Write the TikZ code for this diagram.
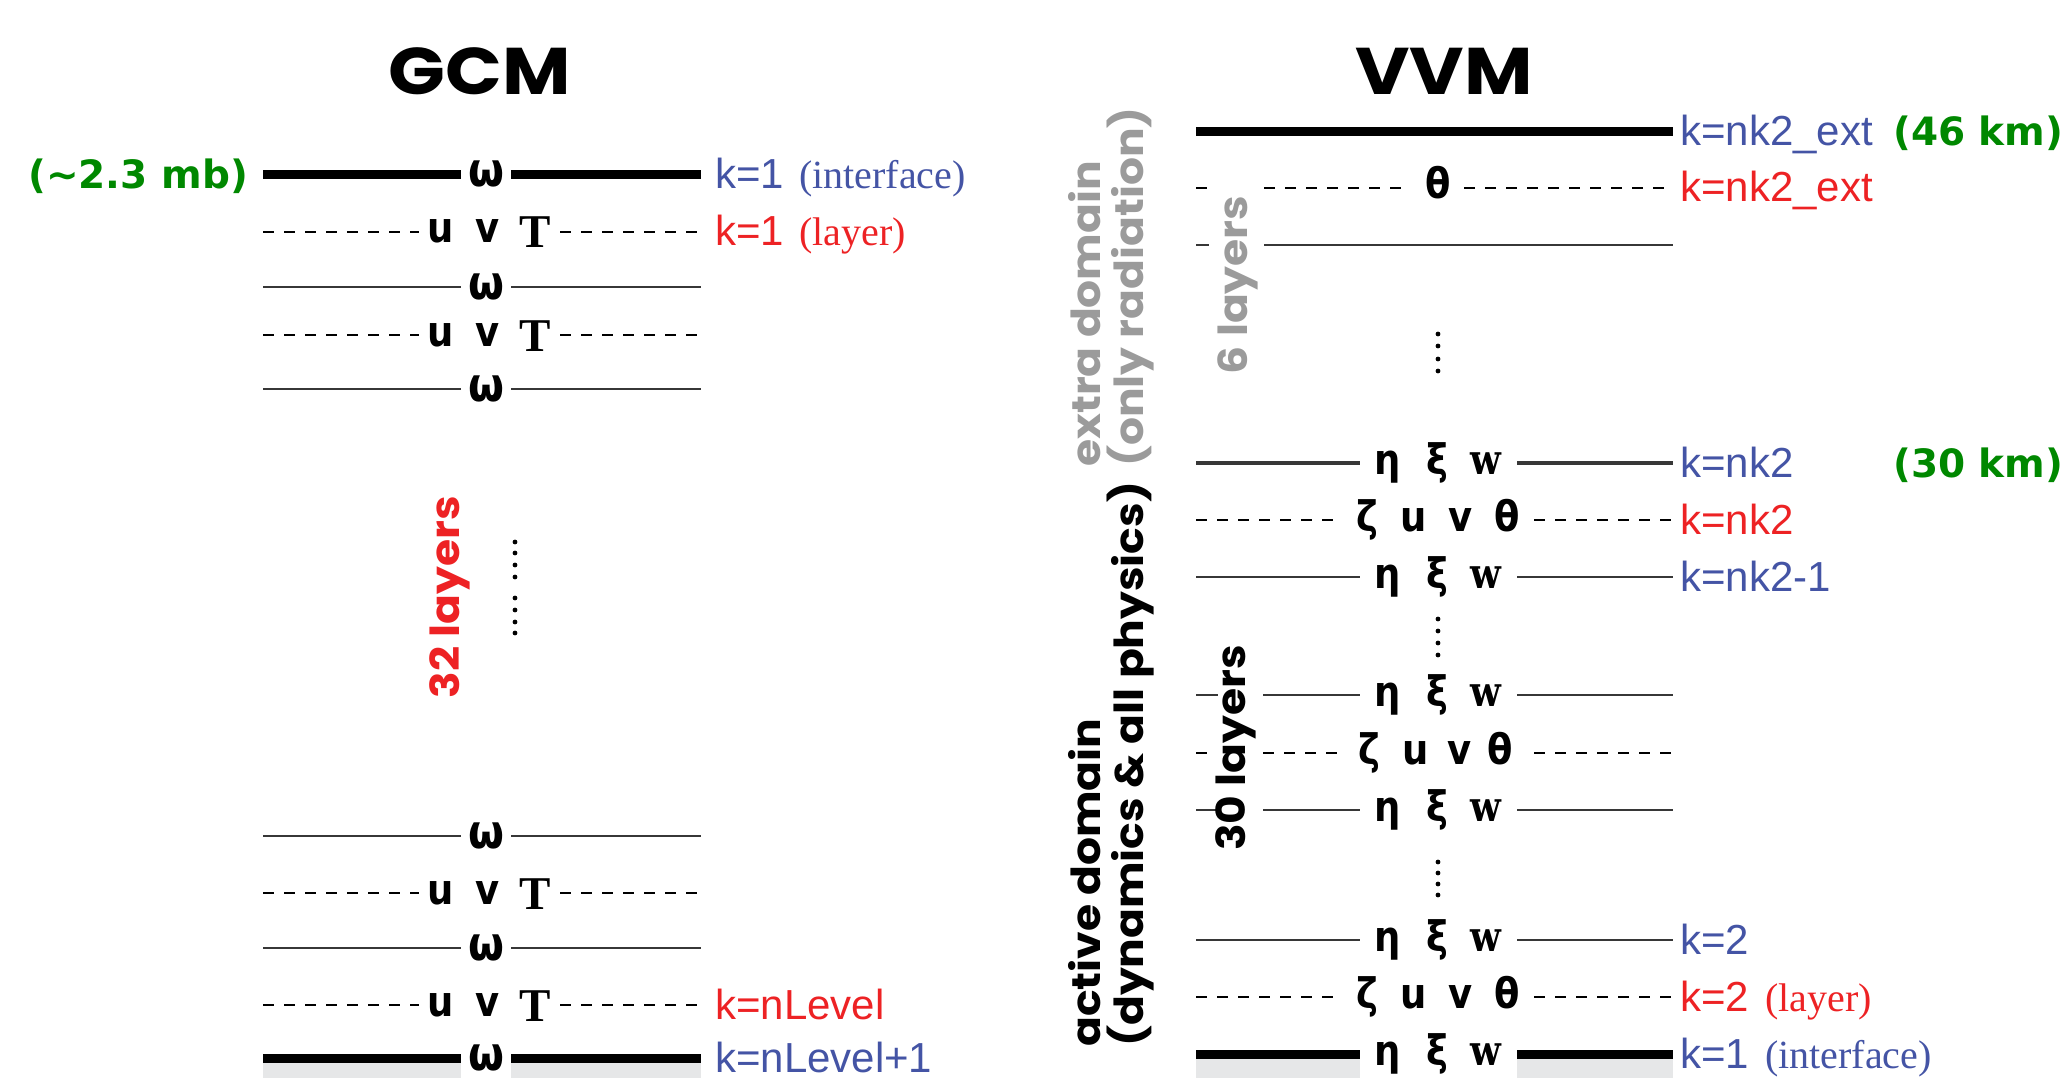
\documentclass[tikz,border=0pt]{standalone}
\usepackage{fontspec}
\setmainfont{Liberation Serif}
\newfontfamily\labfont{Liberation Sans}
\newfontfamily\kmfont{DejaVu Sans}
\newfontfamily\headfont[FakeStretch=1.13]{Poppins}
\newfontfamily\sidefont[FakeStretch=1.1]{Poppins}
\newfontfamily\symfont[FakeStretch=0.88]{DejaVu Sans}
\newfontfamily\wfont[FakeStretch=0.85]{DejaVu Serif}
\definecolor{kblue}{RGB}{68,84,165}
\definecolor{kred}{RGB}{237,34,36}
\definecolor{kgreen}{RGB}{0,136,0}
\definecolor{soft}{RGB}{155,155,155}
\definecolor{ground}{RGB}{230,231,232}
\definecolor{levgray}{RGB}{55,55,55}
\newcommand\sz[2]{\fontsize{#1}{#2}\selectfont}
\newcommand\cell[2]{\makebox[#1][c]{#2}}
% variable groups on each level
\newcommand\om{{\sz{47}{50}ω}}
\newcommand\serT{\raisebox{-5pt}{\rmfamily\bfseries\sz{47}{50}T}}
\newcommand\serw{{\wfont\bfseries\sz{42}{48}w}}
\newcommand\uvT{\cell{47pt}{u}\cell{47pt}{v}\cell{47pt}{\serT}}
\newcommand\exw{\cell{49pt}{η}\cell{49pt}{ξ}\cell{49pt}{\serw}}
\newcommand\zuvt{\cell{46.7pt}{ζ}\cell{46.7pt}{u}\cell{46.7pt}{v}\cell{46.7pt}{θ}}
\tikzset{
  iface/.style={line width=9pt, black},
  lev/.style={line width=2.8pt, levgray},
  lay/.style={line width=2.8pt, black, dash pattern=on 11pt off 10pt},
  sym/.style={inner sep=0pt, anchor=base, font=\symfont\bfseries\sz{42}{48}},
  klab/.style={anchor=base west, inner sep=0pt, font=\labfont\sz{42}{48}},
  km/.style={inner sep=0pt, font=\kmfont\bfseries\sz{39}{44}, text=kgreen},
  title/.style={inner sep=0pt, font=\headfont\bfseries\sz{66}{70}},
  vert/.style={rotate=90, inner sep=0pt, font=\sidefont\bfseries\sz{40}{43}, align=left},
}
\newcommand\ser[1]{{\rmfamily\sz{40}{46}#1}}
\begin{document}
\begin{tikzpicture}[x=1pt,y=-1pt]
\useasboundingbox (0,0) rectangle (2065,1078);

% ---------------- GCM column ----------------
\node[title] (gcm) at (480,71) {GCM};

\fill[ground] (263,1058) rectangle (461,1078);
\fill[ground] (511,1058) rectangle (701,1078);

% interfaces (omega) and layers (u v T)
\node[sym] (g1) at (486,187) {\om};
\draw[iface] (263,175) -- (461,175) (511,175) -- (701,175);
\node[sym] (g2) at (488,243) {\uvT};
\draw[lay] (263,232) -- (419,232) (560,232) -- (701,232);
\node[sym] (g3) at (486,299) {\om};
\draw[lev] (263,287) -- (461,287) (511,287) -- (701,287);
\node[sym] (g4) at (488,346) {\uvT};
\draw[lay] (263,335) -- (419,335) (560,335) -- (701,335);
\node[sym] (g5) at (486,401) {\om};
\draw[lev] (263,389) -- (461,389) (511,389) -- (701,389);

\node[vert, text=kred] (g32) at (450,597) {32 layers};
\foreach \yy in {542,553,565,577,598,610,622,633}
  \fill (515,\yy) circle[radius=2.4pt];

\node[sym] (g6) at (486,848) {\om};
\draw[lev] (263,836) -- (461,836) (511,836) -- (701,836);
\node[sym] (g7) at (488,904) {\uvT};
\draw[lay, line width=2.2pt] (263,893) -- (419,893) (560,893) -- (701,893);
\node[sym] (g8) at (486,960) {\om};
\draw[lev] (263,948) -- (461,948) (511,948) -- (701,948);
\node[sym] (g9) at (488,1016) {\uvT};
\draw[lay, line width=2.2pt] (263,1005) -- (419,1005) (560,1005) -- (701,1005);
\node[sym] (g10) at (486,1070) {\om};
\draw[iface] (263,1058) -- (461,1058) (511,1058) -- (701,1058);

% level labels
\node[km, anchor=base east] (mb) at (248,189) {(\textasciitilde 2.3 mb)};
\node[klab, text=kblue] (gl1) at (715,189) {k=1\hspace{15pt}\ser{(interface)}};
\node[klab, text=kred] (gl2) at (715,246) {k=1\hspace{15pt}\ser{(layer)}};
\node[klab, text=kred] (gl3) at (715,1019) {k=nLevel};
\node[klab, text=kblue] (gl4) at (715,1072) {k=nLevel+1};

% ---------------- VVM column ----------------
\node[title] (vvm) at (1444,71) {VVM};

\fill[ground] (1196,1054) rectangle (1360,1078);
\fill[ground] (1517,1054) rectangle (1673,1078);

% extra domain
\draw[iface] (1196,132) -- (1673,132);
\node[sym] (v1) at (1438,199) {θ};
\draw[lay] (1196,188) -- (1209,188) (1264,188) -- (1409,188) (1464,188) -- (1673,188);
\draw[lev] (1196,245) -- (1209,245) (1264,245) -- (1673,245);
\foreach \yy in {334,346,359,371}
  \fill (1438,\yy) circle[radius=2.4pt];

% active domain
\node[sym] (v2) at (1437,474) {\exw};
\draw[lev, line width=3.6pt] (1196,463) -- (1360,463) (1517,463) -- (1673,463);
\node[sym] (v3) at (1437,531) {\zuvt};
\draw[lay] (1196,520) -- (1343,520) (1534,520) -- (1673,520);
\node[sym] (v4) at (1437,588) {\exw};
\draw[lev] (1196,577) -- (1360,577) (1517,577) -- (1673,577);
\foreach \yy in {619,631,643,655}
  \fill (1438,\yy) circle[radius=2.4pt];
\node[sym] (v5) at (1437,706) {\exw};
\draw[lev] (1196,695) -- (1218,695) (1263,695) -- (1360,695) (1517,695) -- (1673,695);
\node[sym] (v6) at (1433,764) {\cell{46pt}{ζ}\cell{46pt}{u}\cell{43pt}{v}\cell{38pt}{θ}};
\draw[lay, line width=2.2pt] (1196,753) -- (1208,753) (1263,753) -- (1343,753) (1534,753) -- (1673,753);
\node[sym] (v7) at (1437,821) {\exw};
\draw[lev] (1196,810) -- (1218,810) (1263,810) -- (1360,810) (1517,810) -- (1673,810);
\foreach \yy in {862,873,884,895}
  \fill (1438,\yy) circle[radius=2.4pt];
\node[sym] (v8) at (1437,951) {\exw};
\draw[lev] (1196,940) -- (1360,940) (1517,940) -- (1673,940);
\node[sym] (v9) at (1437,1008) {\zuvt};
\draw[lay] (1196,997) -- (1343,997) (1534,997) -- (1673,997);
\node[sym] (v10) at (1437,1065) {\exw};
\draw[iface] (1196,1054) -- (1360,1054) (1517,1054) -- (1673,1054);

% domain annotations
\node[vert, text=soft, anchor=west] (extra) at (1111,467) {extra domain\\(only radiation)};
\node[vert, text=soft] (six) at (1238,285) {6 layers};
\node[vert, anchor=west] (active) at (1111,1047) {active domain\\(dynamics \& all physics)};
\node[vert] (thirty) at (1236,748) {30 layers};

% level labels
\node[klab, text=kblue] (vl1) at (1680,146) {k=nk2\_ext};
\node[km, anchor=base west] (km46) at (1893,146) {(46 km)};
\node[klab, text=kred] (vl2) at (1680,202) {k=nk2\_ext};
\node[klab, text=kblue] (vl3) at (1680,477) {k=nk2};
\node[km, anchor=base west] (km30) at (1893,477) {(30 km)};
\node[klab, text=kred] (vl4) at (1680,534) {k=nk2};
\node[klab, text=kblue] (vl5) at (1680,591) {k=nk2-1};
\node[klab, text=kblue] (vl6) at (1680,954) {k=2};
\node[klab, text=kred] (vl7) at (1680,1011) {k=2\hspace{16pt}\ser{(layer)}};
\node[klab, text=kblue] (vl8) at (1680,1068) {k=1\hspace{16pt}\ser{(interface)}};
\end{tikzpicture}
\end{document}
